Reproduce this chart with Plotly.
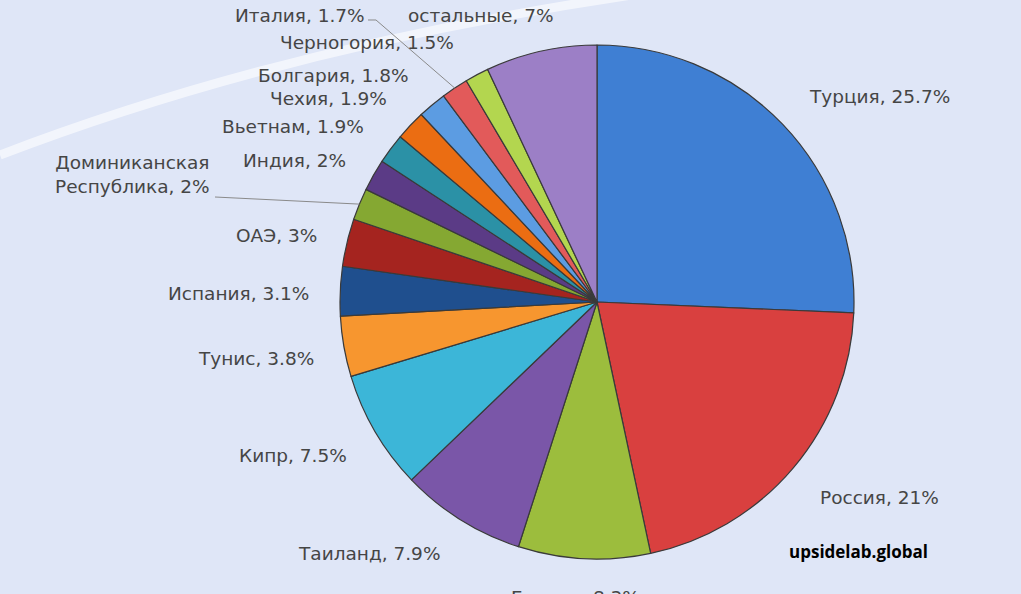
import math
import plotly.graph_objects as go

# Доли по странам (по часовой стрелке от 12 часов)
countries = ["Турция", "Россия", "Греция", "Таиланд", "Кипр", "Тунис", "Испания",
             "ОАЭ", "Доминиканская<br>Республика", "Индия", "Вьетнам", "Чехия",
             "Болгария", "Италия", "Черногория", "остальные"]
shares = [25.7, 21, 8.3, 7.9, 7.5, 3.8, 3.1, 3, 2, 2, 1.9, 1.9, 1.8, 1.7, 1.5, 7]
share_text = ["25.7%", "21%", "8.3%", "7.9%", "7.5%", "3.8%", "3.1%", "3%", "2%",
              "2%", "1.9%", "1.9%", "1.8%", "1.7%", "1.5%", "7%"]

colors = ["#3f7fd3", "#d9403f", "#9cbd3d", "#7a56a8", "#3cb6d8", "#f7962f",
          "#1f4f8e", "#a5241f", "#85a832", "#5b3b86", "#2b91a6", "#eb6d12",
          "#5c9ce2", "#e25a5a", "#b3d64f", "#9c7fc6"]

W, H = 1021, 594
CX, CY, R = 597, 302, 257  # центр и радиус круга в пикселях

# позиции подписей (пиксели, центр текста)
label_pos = [(879, 97), (879, 497), (575, 597), (369, 553), (293, 456),
             (256, 358), (238, 293), (276, 236), (132, 175), (294, 160),
             (293, 127), (328, 99), (333, 76), (300, 16), (367, 42), (481, 16)]

fig = go.Figure()

fig.add_trace(go.Pie(
    labels=countries,
    values=shares,
    sort=False,
    direction="clockwise",
    rotation=0,
    textinfo="none",
    hoverinfo="label+percent",
    marker=dict(colors=colors, line=dict(color="#3a3a3a", width=1.2)),
    domain=dict(x=[(CX - R) / W, (CX + R) / W], y=[1 - (CY + R) / H, 1 - (CY - R) / H]),
    showlegend=False,
))


def px(x, y):
    return x / W, 1 - y / H


annotations = []
for name, txt, (lx, ly) in zip(countries, share_text, label_pos):
    x, y = px(lx, ly)
    annotations.append(dict(
        x=x, y=y, xref="paper", yref="paper", text=name + ", " + txt, showarrow=False,
        xanchor="center", yanchor="middle", align="center",
        font=dict(family="DejaVu Sans", size=18.5, color="#454545"),
    ))

annotations.append(dict(
    x=px(858, 551)[0], y=px(858, 551)[1], xref="paper", yref="paper",
    text="<b>upsidelab.global</b>", showarrow=False, xanchor="center", yanchor="middle",
    font=dict(family="Open Sans", size=17, color="#000000"),
))


def slice_edge(idx):
    # точка на краю сектора (середина дуги)
    start = sum(shares[:idx])
    mid = (start + shares[idx] / 2) / sum(shares) * 2 * math.pi
    return CX + R * math.sin(mid), CY - R * math.cos(mid)


shapes = []
# белая дуга на фоне
shapes.append(dict(
    type="path", xref="paper", yref="paper", layer="below",
    path="M 0 %f Q %f %f %f 1.02" % (1 - 155 / H, 300 / W, 1 - 40 / H, 680 / W),
    line=dict(color="rgba(255,255,255,0.6)", width=9),
))

# выноски для Италии и Доминиканской Республики
ix, iy = slice_edge(countries.index("Италия"))
dx, dy = slice_edge(8)
for pts in ([(368, 20), (376, 20), (ix, iy)], [(215, 197), (dx, dy)]):
    p = [px(a, b) for a, b in pts]
    path = "M " + " L ".join("%f %f" % q for q in p)
    shapes.append(dict(type="path", xref="paper", yref="paper", path=path,
                       line=dict(color="#8a8a8a", width=1)))

fig.update_layout(
    width=W, height=H,
    margin=dict(l=0, r=0, t=0, b=0),
    paper_bgcolor="#dfe6f7",
    plot_bgcolor="#dfe6f7",
    annotations=annotations,
    shapes=shapes,
)

fig.write_html("out.html", config={"displayModeBar": False},
               post_script="document.body.style.margin='0';")
